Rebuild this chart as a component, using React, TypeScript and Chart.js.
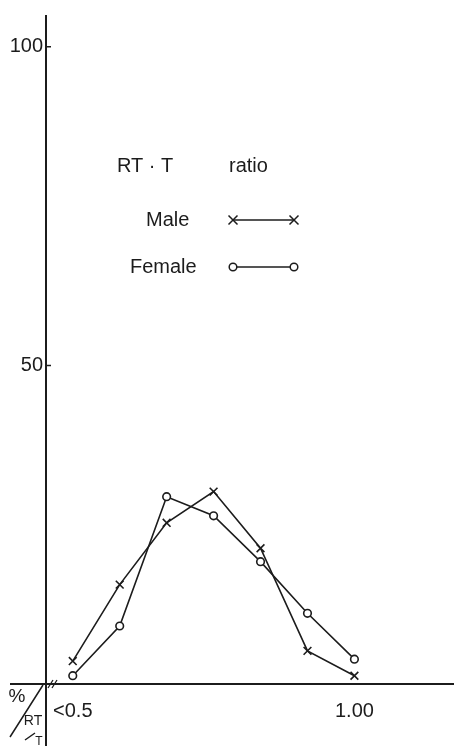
import React, { useEffect, useRef } from 'react';
import { Chart, registerables } from 'chart.js';
Chart.register(...registerables);

// ---- data ----
const categories = ['<0.5', '', '', '', '', '', '1.00'];
const xTickIndices = [0, 6];
const yTicks = [50, 100];
const maleValues = [3.6, 15.6, 25.3, 30.2, 21.3, 5.2, 1.3];
const femaleValues = [1.3, 9.1, 29.4, 26.4, 19.2, 11.1, 3.9];
const seriesNames = ['Male', 'Female'];
const legendTitle = ['RT · T', 'ratio'];
const cornerLabels = ['%', 'RT', 'T'];

const INK = '#1c1c1c';
const FONT = '"Liberation Sans", Arial, sans-serif';

const decorPlugin = {
  id: 'decor',
  afterDraw(chart: any) {
    const ctx = chart.ctx;
    const ys = chart.scales.y;
    const x0 = chart.chartArea.left;
    const y0 = ys.getPixelForValue(0);
    ctx.save();
    ctx.strokeStyle = INK;
    ctx.fillStyle = INK;
    ctx.lineCap = 'butt';
    // axes
    ctx.lineWidth = 2;
    ctx.beginPath();
    ctx.moveTo(10, y0);
    ctx.lineTo(chart.width, y0);
    ctx.moveTo(x0, chart.chartArea.top);
    ctx.lineTo(x0, chart.height);
    ctx.stroke();
    // y tick marks (inside)
    ctx.lineWidth = 1.5;
    ctx.beginPath();
    yTicks.forEach((v) => {
      const py = ys.getPixelForValue(v);
      ctx.moveTo(x0, py);
      ctx.lineTo(x0 + 5, py);
    });
    ctx.stroke();
    // axis break marks
    ctx.lineWidth = 1.3;
    ctx.beginPath();
    ctx.moveTo(x0 + 2, y0 + 4);
    ctx.lineTo(x0 + 7, y0 - 4);
    ctx.moveTo(x0 + 6, y0 + 4);
    ctx.lineTo(x0 + 11, y0 - 4);
    ctx.stroke();
    // corner label
    ctx.lineWidth = 1.5;
    ctx.beginPath();
    ctx.moveTo(10, 737);
    ctx.lineTo(x0 - 3, y0 + 1);
    ctx.moveTo(25, 740);
    ctx.lineTo(35, 733);
    ctx.stroke();
    ctx.textBaseline = 'middle';
    ctx.textAlign = 'center';
    ctx.font = `19px ${FONT}`;
    ctx.fillText(cornerLabels[0], 17, 697);
    ctx.font = `14px ${FONT}`;
    ctx.fillText(cornerLabels[1], 33, 721);
    ctx.font = `12px ${FONT}`;
    ctx.fillText(cornerLabels[2], 39, 742);

    // legend
    ctx.textAlign = 'left';
    ctx.font = `20px ${FONT}`;
    ctx.fillText(legendTitle[0], 117, 166);
    ctx.fillText(legendTitle[1], 229, 166);
    const rows = [
      { name: seriesNames[0], tx: 146, y: 220, style: 'cross' },
      { name: seriesNames[1], tx: 130, y: 267, style: 'circle' },
    ];
    rows.forEach((r) => {
      ctx.fillStyle = INK;
      ctx.fillText(r.name, r.tx, r.y);
      ctx.lineWidth = 1.5;
      ctx.beginPath();
      ctx.moveTo(233, r.y);
      ctx.lineTo(294, r.y);
      ctx.stroke();
      [233, 294].forEach((px) => {
        if (r.style === 'cross') {
          const d = 4.5;
          ctx.beginPath();
          ctx.moveTo(px - d, r.y - d);
          ctx.lineTo(px + d, r.y + d);
          ctx.moveTo(px - d, r.y + d);
          ctx.lineTo(px + d, r.y - d);
          ctx.stroke();
        } else {
          ctx.beginPath();
          ctx.arc(px, r.y, 3.8, 0, Math.PI * 2);
          ctx.fillStyle = '#fff';
          ctx.fill();
          ctx.stroke();
        }
      });
    });
    ctx.restore();
  },
};

export default function App() {
  const ref = useRef<HTMLCanvasElement | null>(null);
  useEffect(() => {
    if (!ref.current) return;
    const chart = new Chart(ref.current, {
      type: 'line',
      data: {
        datasets: [
          {
            label: seriesNames[0],
            data: maleValues.map((v, i) => ({ x: i, y: v })),
            borderColor: INK,
            borderWidth: 1.6,
            pointStyle: 'crossRot',
            pointRadius: 5.5,
            pointBorderWidth: 1.6,
            pointBorderColor: INK,
            pointBackgroundColor: INK,
            tension: 0,
            clip: false as any,
          },
          {
            label: seriesNames[1],
            data: femaleValues.map((v, i) => ({ x: i, y: v })),
            borderColor: INK,
            borderWidth: 1.6,
            pointStyle: 'circle',
            pointRadius: 3.8,
            pointBorderWidth: 1.6,
            pointBorderColor: INK,
            pointBackgroundColor: '#fff',
            tension: 0,
            clip: false as any,
          },
        ],
      },
      options: {
        animation: false,
        responsive: false,
        devicePixelRatio: 1,
        layout: { padding: { top: 12, left: 0, right: 0, bottom: 0 } },
        plugins: { legend: { display: false }, tooltip: { enabled: false } },
        scales: {
          x: {
            type: 'linear',
            min: -0.57,
            max: 7.97,
            grid: { display: false, drawTicks: false },
            border: { display: false },
            afterBuildTicks: (s: any) => {
              s.ticks = xTickIndices.map((v) => ({ value: v }));
            },
            afterFit: (s: any) => {
              s.height = 62;
            },
            ticks: {
              autoSkip: false,
              maxRotation: 0,
              padding: 15,
              color: INK,
              font: { family: FONT, size: 20 },
              callback: (v: any) => categories[v] ?? '',
            },
          },
          y: {
            type: 'linear',
            min: 0,
            max: 105,
            grid: { display: false, drawTicks: false },
            border: { display: false },
            afterBuildTicks: (s: any) => {
              s.ticks = yTicks.map((v) => ({ value: v }));
            },
            afterFit: (s: any) => {
              s.width = 46;
            },
            ticks: {
              padding: 3,
              color: INK,
              font: { family: FONT, size: 20 },
            },
          },
        },
      },
      plugins: [decorPlugin],
    });
    return () => chart.destroy();
  }, []);
  return (
    <div style={{ position: 'absolute', left: 0, top: 0, width: 454, height: 746, background: '#fff' }}>
      <canvas ref={ref} width={454} height={746} style={{ display: 'block' }} />
    </div>
  );
}
